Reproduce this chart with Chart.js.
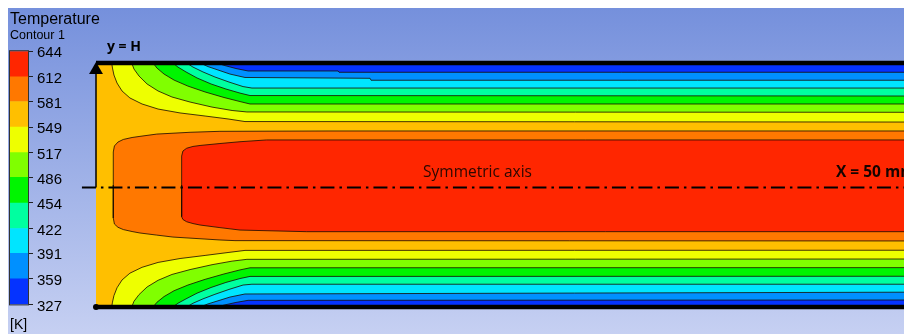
<!DOCTYPE html>
<html>
<head>
<meta charset="utf-8">
<script src="https://cdn.jsdelivr.net/npm/chart.js@4.4.1/dist/chart.umd.min.js"></script>
<style>
  html, body { margin: 0; padding: 0; background: #fff; }
  #wrap { position: relative; width: 904px; height: 334px; overflow: hidden; }
  #panel { position: absolute; left: 8px; top: 8px; right: 0; bottom: 0;
           background: linear-gradient(to bottom, #7590dc, #c6d0f2); }
  #field, #legend { position: absolute; left: 0; top: 0; }
</style>
</head>
<body>
<div id="wrap">
  <div id="panel"></div>
  <canvas id="field" width="904" height="334"></canvas>
  <canvas id="legend" width="120" height="334"></canvas>
</div>
<script>
// contour levels [K], coldest first, and the colour of each band between them
const levels = [327, 359, 391, 422, 454, 486, 517, 549, 581, 612, 644];
const bandColors = ['#0533ff', '#0090ff', '#00e5ff', '#00ffa0', '#00f500',
                    '#80ff00', '#eeff00', '#ffbf00', '#ff7800', '#ff2600'];

// isotherms as [x, y] in mm; duct half height H = 7.5 mm, symmetry axis at y = 0
// hot core (closed toward the inlet)
const core581Upper = [[1.07, 0], [1.07, 2.03], [1.14, 2.40], [1.36, 2.64], [1.69, 2.80], [2.23, 2.92],
                      [2.72, 2.99], [3.76, 3.13], [5.82, 3.24], [7.67, 3.30], [14.48, 3.32], [50, 3.32]];
const core581Lower = [[1.07, 0], [1.07, -2.03], [1.14, -2.40], [1.36, -2.60], [1.69, -2.74], [2.23, -2.86],
                      [2.72, -2.95], [3.76, -3.08], [4.76, -3.20], [7.67, -3.38], [8.60, -3.42], [50, -3.44]];
const core612Upper = [[5.30, 0], [5.30, 1.78], [5.38, 2.09], [5.61, 2.26], [6.00, 2.37], [6.44, 2.43],
                      [7.67, 2.55], [8.91, 2.66], [10.56, 2.77], [50, 2.77]];
const core612Lower = [[5.30, 0], [5.30, -1.95], [5.38, -2.12], [5.61, -2.26], [6.00, -2.37], [6.44, -2.46],
                      [7.67, -2.62], [8.91, -2.77], [13.04, -2.87], [50, -2.87]];

// thermal boundary layer along the cold walls
const iso549Upper = [[0.97, 7.5], [1.02, 7.19], [1.11, 6.76], [1.30, 6.27], [1.61, 5.78], [2.10, 5.35],
                     [2.85, 4.98], [3.84, 4.67], [5.20, 4.43], [6.75, 4.24], [8.17, 4.06], [9.22, 3.90], [50, 3.87]];
const iso549Lower = [[0.97, -7.5], [1.02, -7.20], [1.11, -6.80], [1.30, -6.32], [1.61, -5.84], [2.10, -5.42],
                     [2.85, -5.06], [3.84, -4.76], [5.20, -4.52], [6.75, -4.33], [8.17, -4.15], [9.22, -4.02], [50, -4.01]];
const iso517Upper = [[2.21, 7.5], [2.35, 7.13], [2.66, 6.70], [3.16, 6.21], [3.84, 5.78], [4.70, 5.41],
                     [5.82, 5.10], [7.18, 4.79], [8.42, 4.58], [9.34, 4.49], [50, 4.47]];
const iso517Lower = [[2.21, -7.5], [2.35, -7.15], [2.66, -6.74], [3.16, -6.27], [3.84, -5.86], [4.70, -5.50],
                     [5.82, -5.20], [7.18, -4.90], [8.42, -4.68], [9.34, -4.57], [50, -4.55]];
const iso486Upper = [[3.53, 7.5], [3.77, 7.19], [4.21, 6.82], [4.83, 6.45], [5.69, 6.08], [6.75, 5.72],
                     [7.92, 5.38], [8.91, 5.13], [9.53, 4.98], [50, 4.98]];
const iso486Lower = [[3.53, -7.5], [3.77, -7.21], [4.21, -6.86], [4.83, -6.50], [5.69, -6.15], [6.75, -5.80],
                     [7.92, -5.47], [8.91, -5.22], [9.53, -5.09], [50, -5.08]];
const iso454Upper = [[4.76, 7.5], [5.07, 7.25], [5.57, 6.95], [6.25, 6.58], [7.12, 6.21], [8.04, 5.90],
                     [8.91, 5.65], [9.53, 5.50], [50, 5.47]];
const iso454Lower = [[4.76, -7.5], [5.07, -7.27], [5.57, -7.00], [6.25, -6.65], [7.12, -6.30], [8.04, -5.99],
                     [8.91, -5.75], [9.53, -5.62], [50, -5.61]];
const iso422Upper = [[5.61, 7.5], [6.00, 7.25], [6.62, 6.95], [7.36, 6.64], [8.23, 6.33], [9.10, 6.05],
                     [9.65, 5.96], [50, 5.96]];
const iso422Lower = [[5.61, -7.5], [6.00, -7.27], [6.62, -7.00], [7.36, -6.72], [8.23, -6.42], [9.10, -6.15],
                     [9.65, -6.10], [50, -6.10]];
const iso391Upper = [[6.44, 7.5], [6.93, 7.28], [7.55, 7.07], [8.29, 6.82], [9.22, 6.61], [16.96, 6.56],
                     [17.02, 6.44], [50, 6.44]];
const iso391Lower = [[6.44, -7.5], [6.93, -7.31], [7.55, -7.12], [8.29, -6.89], [9.22, -6.70], [50, -6.59]];
const iso359Upper = [[7.47, 7.5], [7.98, 7.34], [8.66, 7.16], [9.41, 7.01], [14.98, 7.01], [15.04, 6.93], [50, 6.93]];
const iso359Lower = [[7.47, -7.5], [7.98, -7.37], [8.66, -7.22], [9.41, -7.09], [50, -7.07]];

const wallIsotherms = [
  [549, iso549Upper, iso549Lower], [517, iso517Upper, iso517Lower], [486, iso486Upper, iso486Lower],
  [454, iso454Upper, iso454Lower], [422, iso422Upper, iso422Lower], [391, iso391Upper, iso391Lower],
  [359, iso359Upper, iso359Lower]
];

// text placed in the duct, positions in mm
const notes = [
  { text: 'y = H', x: 0.68, y: 8.48, font: 'bold 14px "Open Sans"', color: '#000' },
  { text: 'Symmetric axis', x: 20.24, y: 0.74, font: '15.5px "Open Sans"', color: '#2a0800' },
  { text: 'X = 50 mm', x: 45.79, y: 0.74, font: 'bold 15.5px "Open Sans"', color: '#160400' }
];

Chart.defaults.font.family = '"Liberation Sans", Arial, sans-serif';

const toPts = arr => arr.map(p => ({ x: p[0], y: p[1] }));
const isoLine = 'rgba(25, 10, 0, 0.8)';

// layers listed bottom to top
const layers = [];
// inlet temperature fills the whole duct
layers.push({ data: toPts([[0, 7.5], [50, 7.5]]), fill: { value: -7.5 },
              backgroundColor: bandColors[7], borderWidth: 0 });
[[581, core581Upper, core581Lower], [612, core612Upper, core612Lower]].forEach(([lvl, up, lo]) => {
  const c = bandColors[levels.indexOf(lvl)];
  layers.push({ data: toPts(up), fill: { value: 0 }, backgroundColor: c, borderColor: isoLine, borderWidth: 1 });
  layers.push({ data: toPts(lo), fill: { value: 0 }, backgroundColor: c, borderColor: isoLine, borderWidth: 1 });
});
wallIsotherms.forEach(([lvl, up, lo]) => {
  const c = bandColors[levels.indexOf(lvl) - 1];
  layers.push({ data: toPts(up), fill: { value: 7.5 }, backgroundColor: c, borderColor: isoLine, borderWidth: 1 });
  layers.push({ data: toPts(lo), fill: { value: -7.5 }, backgroundColor: c, borderColor: isoLine, borderWidth: 1 });
});
// walls
layers.push({ data: toPts([[0, 7.5], [50, 7.5]]), borderColor: '#000', borderWidth: 4.5, clip: false });
layers.push({ data: toPts([[0, -7.5], [50, -7.5]]), borderColor: '#000', borderWidth: 4.5, clip: false,
              pointRadius: [3, 0], pointBackgroundColor: '#000', pointBorderWidth: 0 });
// symmetry axis (dash-dot) and the y = H arrow
layers.push({ data: toPts([[-0.87, -0.154], [50, -0.154]]), borderColor: '#000', borderWidth: 2.2,
              borderDash: [14, 5, 2.5, 5], clip: false });
layers.push({ data: toPts([[0, -0.154], [0, 7.07]]), borderColor: '#000', borderWidth: 1.5, clip: false,
              pointRadius: [0, 8], pointStyle: 'triangle', pointBackgroundColor: '#000', pointBorderWidth: 0 });

const datasets = layers.map((d, i) => Object.assign({
  fill: false, pointRadius: 0, tension: 0, order: layers.length - i
}, d));

const noteText = {
  id: 'noteText',
  afterDatasetsDraw(chart) {
    const { ctx, scales } = chart;
    ctx.save();
    ctx.textBaseline = 'middle';
    ctx.textAlign = 'left';
    notes.forEach(n => {
      ctx.font = n.font;
      ctx.fillStyle = n.color;
      ctx.fillText(n.text, scales.x.getPixelForValue(n.x), scales.y.getPixelForValue(n.y));
    });
    ctx.restore();
  }
};

new Chart(document.getElementById('field'), {
  type: 'line',
  data: { datasets },
  options: {
    responsive: false,
    animation: false,
    devicePixelRatio: 1,
    layout: { autoPadding: false, padding: { left: 96, top: 63, right: 0, bottom: 27 } },
    scales: {
      x: { type: 'linear', min: 0, max: 50, display: false },
      y: { type: 'linear', min: -7.5, max: 7.5, display: false }
    },
    plugins: { legend: { display: false }, tooltip: { enabled: false } }
  },
  plugins: [noteText]
});

// colour legend
const barOutline = {
  id: 'barOutline',
  afterDatasetsDraw(chart) {
    const { ctx, chartArea: a } = chart;
    ctx.save();
    ctx.strokeStyle = '#333';
    ctx.lineWidth = 1;
    ctx.strokeRect(a.left - 0.5, a.top - 0.5, a.right - a.left + 1, a.bottom - a.top + 1);
    ctx.restore();
  }
};

new Chart(document.getElementById('legend'), {
  type: 'bar',
  data: {
    labels: [''],
    datasets: bandColors.map((c, i) => ({
      data: [[levels[i], levels[i + 1]]],
      backgroundColor: c,
      borderWidth: 0,
      grouped: false,
      barPercentage: 1,
      categoryPercentage: 1
    }))
  },
  options: {
    responsive: false,
    animation: false,
    devicePixelRatio: 1,
    layout: { autoPadding: false, padding: { left: 10, top: 8, right: 0, bottom: 0 } },
    scales: {
      x: {
        grid: { display: false, drawTicks: false },
        border: { display: false },
        ticks: { display: false },
        title: { display: true, text: '[K]', align: 'start', color: '#000',
                 font: { size: 14 }, padding: { top: 12.8, bottom: 0 } }
      },
      y: {
        position: 'right',
        min: 327,
        max: 644,
        afterBuildTicks: s => { s.ticks = levels.map(v => ({ value: v })); },
        afterFit: s => { s.width = 92; },
        ticks: { autoSkip: false, padding: 4, labelOffset: 2, color: '#000', font: { size: 15 } },
        grid: { drawOnChartArea: false, tickLength: 5, color: '#222' },
        border: { display: false }
      }
    },
    plugins: {
      legend: { display: false },
      tooltip: { enabled: false },
      title: { display: true, text: 'Temperature', align: 'start', color: '#000',
               font: { size: 16, weight: 'normal' }, padding: { top: 2, bottom: 0 } },
      subtitle: { display: true, text: 'Contour 1', align: 'start', color: '#000',
                  font: { size: 12.5, lineHeight: 1 }, padding: { top: 0, bottom: 9.5 } }
    }
  },
  plugins: [barOutline]
});
</script>
</body>
</html>
